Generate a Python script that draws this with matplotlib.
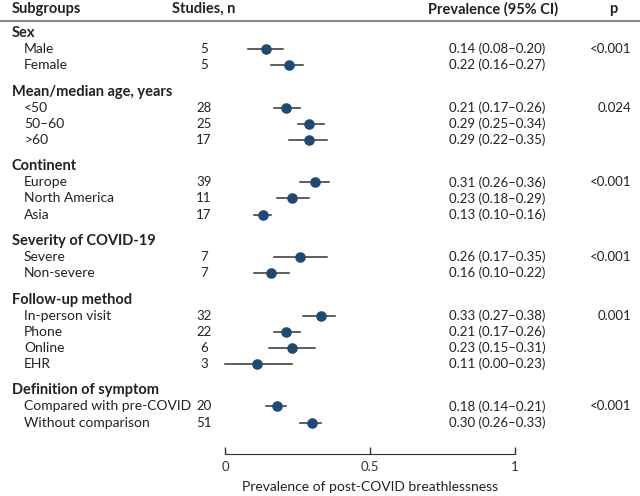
import matplotlib.pyplot as plt
from matplotlib.lines import Line2D
from matplotlib.transforms import blended_transform_factory

plt.rcParams['font.family'] = ['Lato', 'DejaVu Sans']

groups = ["Sex", "Mean/median age, years", "Continent", "Severity of COVID-19",
          "Follow-up method", "Definition of symptom"]
subgroups = [["Male", "Female"],
             ["<50", "50\u201360", ">60"],
             ["Europe", "North America", "Asia"],
             ["Severe", "Non-severe"],
             ["In-person visit", "Phone", "Online", "EHR"],
             ["Compared with pre-COVID", "Without comparison"]]
studies = [[5, 5], [28, 25, 17], [39, 11, 17], [7, 7], [32, 22, 6, 3], [20, 51]]
prev = [[0.14, 0.22], [0.21, 0.29, 0.29], [0.31, 0.23, 0.13], [0.26, 0.16],
        [0.33, 0.21, 0.23, 0.11], [0.18, 0.30]]
lo = [[0.08, 0.16], [0.17, 0.25, 0.22], [0.26, 0.18, 0.10], [0.17, 0.10],
      [0.27, 0.17, 0.15, 0.00], [0.14, 0.26]]
hi = [[0.20, 0.27], [0.26, 0.34, 0.35], [0.36, 0.29, 0.16], [0.35, 0.22],
      [0.38, 0.26, 0.31, 0.23], [0.21, 0.33]]
pvals = ["<0.001", "0.024", "<0.001", "<0.001", "0.001", "<0.001"]

W, H = 640, 496
fig = plt.figure(figsize=(W / 100, H / 100), dpi=100)
ax = fig.add_axes([225 / W, (H - 454) / H, 290 / W, 454 / H])

step_px = 16.1
gap = 26.4 / step_px
ax.set_xlim(0, 1)
ax.set_ylim((454 - 33) / step_px, -33 / step_px)

tr = blended_transform_factory(fig.transFigure, ax.transData)
bfs = 10.5  # bold headers
fs = 10     # words
nfs = 9.5   # numbers (Lato digits run wide)
col = '#222222'
navy = '#1d4a72'

hdr_y = (9 - 33) / step_px
ax.text(12 / W, hdr_y, "Subgroups", transform=tr, fontsize=bfs, fontweight='bold', va='center', color=col)
ax.text(204 / W, hdr_y, "Studies, n", transform=tr, fontsize=bfs, fontweight='bold', va='center', ha='center', color=col)
ax.text(493 / W, hdr_y, "Prevalence (95% CI)", transform=tr, fontsize=bfs, fontweight='bold', va='center', ha='center', color=col)
ax.text(613 / W, hdr_y, "p", transform=tr, fontsize=bfs, fontweight='bold', va='center', ha='center', color=col)
line_y = (21.5 - 33) / step_px
fig.add_artist(Line2D([0, 1], [line_y, line_y], transform=tr, color='#888888', lw=1.5))

y = 0
for g, name in enumerate(groups):
    if g > 0:
        y += gap
    ax.text(12 / W, y, name, transform=tr, fontsize=bfs, fontweight='bold', va='center', color=col)
    for i, sub in enumerate(subgroups[g]):
        y += 1
        ax.text(24 / W, y, sub, transform=tr, fontsize=fs, va='center', color=col)
        ax.text(204 / W, y, str(studies[g][i]), transform=tr, fontsize=nfs, va='center', ha='center', color=col)
        ax.text(449 / W, y, "%.2f (%.2f\u2013%.2f)" % (prev[g][i], lo[g][i], hi[g][i]),
                transform=tr, fontsize=nfs, va='center', color=col)
        if i == 0:
            ax.text(631 / W, y, pvals[g], transform=tr, fontsize=nfs, va='center', ha='right', color=col)
        ax.plot([lo[g][i], hi[g][i]], [y, y], color='#333333', lw=1.1, clip_on=False)
        ax.plot(prev[g][i], y, 'o', color=navy, ms=6.6, clip_on=False)

for s in ['top', 'left', 'right']:
    ax.spines[s].set_visible(False)
ax.spines['bottom'].set_bounds(0, 1)
ax.spines['bottom'].set_color('#333333')
ax.set_yticks([])
ax.set_xticks([0, 0.5, 1])
ax.set_xticklabels(["0", "0.5", "1"])
ax.tick_params(axis='x', direction='in', length=5, width=1, pad=5, labelsize=nfs, colors='#333333')
ax.set_xlabel("Prevalence of post-COVID breathlessness", fontsize=fs, color=col, labelpad=6)
ax.patch.set_visible(False)

fig.savefig("out.png", dpi=100)
